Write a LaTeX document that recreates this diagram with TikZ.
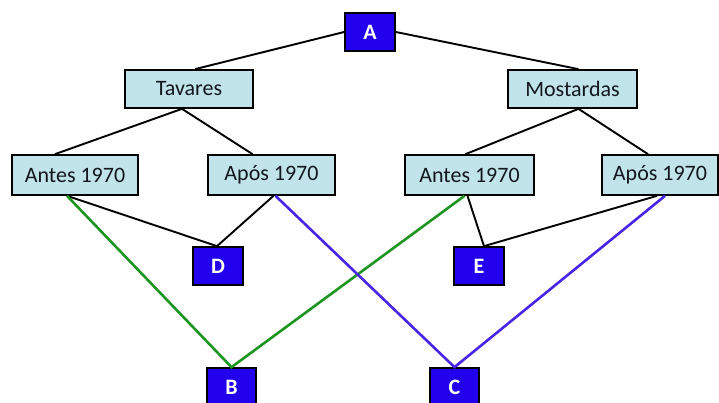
\documentclass[tikz,border=0pt]{standalone}
\usepackage{fontspec}
\setmainfont{Carlito}
\definecolor{boxfill}{RGB}{192,228,234}
\definecolor{keyblue}{RGB}{34,0,238}
\definecolor{pathgreen}{RGB}{28,150,32}
\definecolor{pathblue}{RGB}{72,36,230}
\definecolor{ink}{RGB}{20,22,30}
\begin{document}
\begin{tikzpicture}[x=1pt,y=-1pt,
  cat/.style={draw=black, line width=1.7pt, fill=boxfill, text=ink, minimum height=38pt,
    inner sep=0pt, font=\fontsize{22}{26}\selectfont},
  key/.style={draw=black, line width=1.7pt, fill=keyblue, text=white,
    minimum width=50pt, minimum height=38pt, inner sep=0pt,
    font=\fontsize{22}{26}\selectfont\bfseries},
  link/.style={line width=1.9pt, black},
  gpath/.style={line width=2.6pt, pathgreen},
  bpath/.style={line width=2.6pt, pathblue}]
\useasboundingbox (0,0) rectangle (719,403);

% top key
\node[key] (A) at (370,32) {A};

% first level
\node[cat, minimum width=128pt] (tav) at (189,89) {Tavares};
\node[cat, minimum width=129pt] (mos) at (572.5,89) {Mostardas};

% second level
\node[cat, minimum width=126pt, minimum height=40pt] (ant1) at (75,175) {Antes 1970};
\node[cat, minimum width=127pt, minimum height=40pt] (apo1) at (271.5,175) {Após 1970};
\node[cat, minimum width=129pt, minimum height=40pt] (ant2) at (469.5,175) {Antes 1970};
\node[cat, minimum width=116pt, minimum height=40pt] (apo2) at (660,175) {Após 1970};

% bottom keys
\node[key] (D) at (218,266) {D};
\node[key] (E) at (479,266) {E};
\node[key, minimum width=49pt] (B) at (231.5,387) {B};
\node[key, minimum width=49pt] (C) at (454.5,387) {C};

% tree links
\draw[link] (A.west) -- ([xshift=6pt]tav.north);
\draw[link] (A.east) -- ([xshift=6pt]mos.north);
\draw[link] ([xshift=-7pt]tav.south) -- ([xshift=-20pt]ant1.north);
\draw[link] ([xshift=-7pt]tav.south) -- ([xshift=-19pt]apo1.north);
\draw[link] ([xshift=6pt]mos.south) -- ([xshift=-4pt]ant2.north);
\draw[link] ([xshift=6pt]mos.south) -- ([xshift=-12pt]apo2.north);

% links to D and E
\draw[link] ([xshift=-8pt]ant1.south) -- ([xshift=-1pt]D.north);
\draw[link] ([xshift=2pt]apo1.south) -- ([xshift=-1pt]D.north);
\draw[link] ([xshift=-2pt]ant2.south) -- ([xshift=5pt]E.north);
\draw[link] ([xshift=-3pt]apo2.south) -- ([xshift=5pt]E.north);

% green path through B
\draw[gpath] ([xshift=-8pt]ant1.south) -- (B.north) -- ([xshift=-5pt]ant2.south);
% blue path through C
\draw[bpath] ([xshift=4pt]apo1.south) -- (C.north) -- ([xshift=5pt]apo2.south);
\end{tikzpicture}
\end{document}
